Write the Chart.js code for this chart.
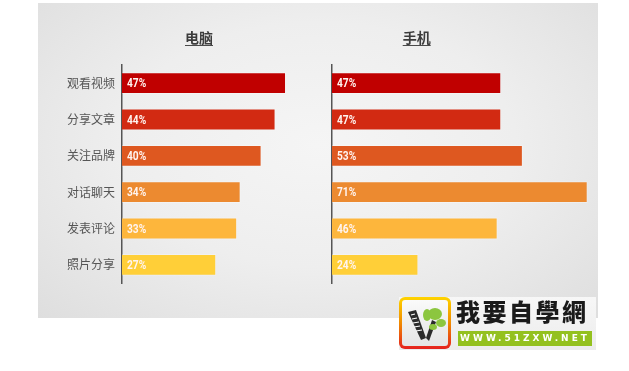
<!DOCTYPE html>
<html>
<head>
<meta charset="utf-8">
<script src="https://cdn.jsdelivr.net/npm/chart.js@4/dist/chart.umd.min.js"></script>
<style>
  html, body { margin: 0; padding: 0; background: #fff; width: 629px; height: 371px; overflow: hidden; }
  .paper {
    position: absolute; left: 38px; top: 3px; width: 560px; height: 315px;
    background: radial-gradient(ellipse at 50% 45%, #f5f5f5 0%, #eeeeee 50%, #dedede 100%);
  }
  .panel { position: absolute; top: 3px; height: 300px; }
  #pcWrap { left: 38px; width: 322px; }
  #mobileWrap { left: 300px; width: 298px; }
  .logo {
    position: absolute; left: 399px; top: 297px; width: 197px; height: 53px;
    background: linear-gradient(#f7f7f7, #ececec);
  }
  .logo .icon {
    position: absolute; left: 0; top: 0; width: 46px; height: 46px;
    border: 3px solid transparent; border-radius: 6px;
    background: linear-gradient(#fafafa, #e4e4e4) padding-box,
                linear-gradient(#ffd400, #f08a00 50%, #e5201e) border-box;
  }
  .logo .name {
    position: absolute; left: 57px; top: 0px; font: 900 24px "Noto Sans CJK TC", sans-serif;
    color: #1a1a1a; letter-spacing: 2.5px; line-height: 28px;
  }
  .logo .url {
    position: absolute; left: 59px; top: 34px; width: 134px; height: 15px;
    background: #94c11f; color: #fff; font: bold 9px "DejaVu Sans", sans-serif;
    letter-spacing: 3px; line-height: 15px; text-align: center; white-space: nowrap; overflow: hidden;
  }
</style>
</head>
<body>
<div class="paper"></div>
<div class="panel" id="pcWrap"><canvas id="pcChart"></canvas></div>
<div class="panel" id="mobileWrap"><canvas id="mobileChart"></canvas></div>
<div class="logo">
  <div class="icon">
    <svg width="46" height="46" viewBox="0 0 46 46">
      <path d="M6 12 L14 10 L24 38 L19 40 Z" fill="#2b2b2b"/>
      <path d="M24 38 L30 20 L34 22 L27 41 Z" fill="#2b2b2b"/>
      <path d="M9 15 L13 14 M10 19 L15 18 M11 23 L17 22 M12 27 L18 26 M14 31 L20 30" stroke="#fff" stroke-width="1.2"/>
      <ellipse cx="33" cy="14" rx="7" ry="6" fill="#8cc63f"/>
      <ellipse cx="25" cy="15" rx="4" ry="6" fill="#8cc63f"/>
      <ellipse cx="39" cy="23" rx="5" ry="4" fill="#8cc63f"/>
      <ellipse cx="31" cy="27" rx="4" ry="3" fill="#8cc63f"/>
    </svg>
  </div>
  <div class="name">我要自學網</div>
  <div class="url">WWW.51ZXW.NET</div>
</div>
<script>
const categories = ["观看视频", "分享文章", "关注品牌", "对话聊天", "发表评论", "照片分享"];
const pcValues = [47, 44, 40, 34, 33, 27];
const mobileValues = [47, 47, 53, 71, 46, 24];
const barColors = ["#c00000", "#d22a12", "#de5820", "#ec8a30", "#fdb63c", "#ffcf38"];
const panelTitles = ["电脑", "手机"];

// underlined panel title
const panelTitle = {
    id: "panelTitle",
    afterDraw(chart, args, opts) {
        const ctx = chart.ctx;
        ctx.save();
        ctx.font = "bold 14px 'Noto Sans CJK SC', sans-serif";
        ctx.fillStyle = "#3c3c3c";
        ctx.textAlign = "center";
        ctx.textBaseline = "middle";
        ctx.fillText(opts.text, opts.x, 35);
        const w = ctx.measureText(opts.text).width;
        ctx.strokeStyle = "#4a4a4a";
        ctx.lineWidth = 1;
        ctx.beginPath();
        ctx.moveTo(opts.x - w / 2, 42.5);
        ctx.lineTo(opts.x + w / 2, 42.5);
        ctx.stroke();
        ctx.restore();
    },
};

// percent labels inside bars
const barLabels = {
    id: "barLabels",
    afterDatasetsDraw(chart) {
        const ctx = chart.ctx;
        const meta = chart.getDatasetMeta(0);
        ctx.save();
        ctx.font = "bold 12px Roboto, sans-serif";
        ctx.fillStyle = "#fff4f0";
        ctx.textBaseline = "middle";
        meta.data.forEach((bar, i) => {
            ctx.save();
            ctx.translate(bar.base + 5, bar.y + 1);
            ctx.scale(0.85, 1);
            ctx.fillText(chart.data.datasets[0].data[i] + "%", 0, 0);
            ctx.restore();
        });
        ctx.restore();
    },
};

const createConfig = (values, xMax, axisWidth, showLabels, padRight, title, titleX) => ({
    type: "bar",
    data: {
        labels: categories,
        datasets: [{
            data: values,
            backgroundColor: barColors,
            borderColor: "rgba(255, 255, 255, .25)",
            borderWidth: 1,
            barPercentage: 0.6,
            categoryPercentage: 1,
        }],
    },
    options: {
        indexAxis: "y",
        responsive: true,
        maintainAspectRatio: false,
        animation: false,
        layout: { padding: { left: 0, right: padRight, top: 62, bottom: 20 } },
        plugins: {
            legend: { display: false },
            tooltip: { enabled: false },
            panelTitle: { text: title, x: titleX },
        },
        scales: {
            x: { display: false, min: 0, max: xMax },
            y: {
                afterFit: (scale) => { scale.width = axisWidth; },
                grid: { display: false, drawTicks: false },
                border: { display: true, color: "#555555", width: 1.5 },
                ticks: {
                    display: showLabels,
                    padding: 7,
                    color: "#555555",
                    font: { family: "'Noto Sans CJK SC', sans-serif", size: 12 },
                },
            },
        },
    },
    plugins: [panelTitle, barLabels],
});

new Chart(document.getElementById("pcChart"),
    createConfig(pcValues, 50, 84, true, 63.5, panelTitles[0], 161));
new Chart(document.getElementById("mobileChart"),
    createConfig(mobileValues, 72, 32, false, 6.7, panelTitles[1], 116.7));
</script>
</body>
</html>
